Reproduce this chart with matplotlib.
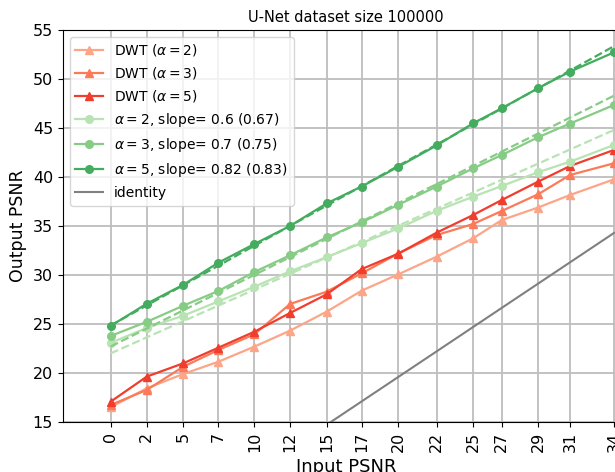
import numpy as np
import matplotlib
matplotlib.use("Agg")
import matplotlib.pyplot as plt
from matplotlib import cm

# ---- data ----
x_input = [0.0, 2.46, 4.95, 7.34, 9.79, 12.22, 14.72, 17.10, 19.60, 22.21, 24.69, 26.64, 29.11, 31.29, 34.29]
x_ticklabels = ["0", "2", "5", "7", "10", "12", "15", "17", "20", "22", "25", "27", "29", "31", "34"]

dwt_a2 = [16.5, 18.44, 19.9, 21.15, 22.69, 24.32, 26.26, 28.4, 30.07, 31.87, 33.74, 35.61, 36.88, 38.16, 39.76]
dwt_a3 = [16.73, 18.27, 20.64, 22.35, 23.95, 27.04, 28.3, 30.17, 32.2, 34.08, 35.2, 36.53, 38.23, 40.2, 41.4]
dwt_a5 = [17.07, 19.63, 20.99, 22.58, 24.21, 26.12, 28.03, 30.6, 32.18, 34.32, 36.12, 37.65, 39.52, 41.12, 42.76]

unet_a2 = [23.08, 24.6, 25.85, 27.3, 28.81, 30.37, 31.82, 33.25, 34.76, 36.55, 37.99, 39.08, 40.48, 41.56, 43.27]
unet_a3 = [23.78, 25.22, 26.87, 28.37, 30.31, 32.01, 33.84, 35.37, 37.17, 39.03, 40.88, 42.24, 44.05, 45.45, 47.35]
unet_a5 = [24.8, 27.07, 29.0, 31.26, 33.16, 35.0, 37.31, 39.03, 41.05, 43.22, 45.48, 47.01, 49.05, 50.75, 52.72]

# dashed reference lines (value at first and last input PSNR)
fit_a2 = [22.0, 44.8]
fit_a3 = [22.7, 48.3]
fit_a5 = [24.85, 53.35]

alphas = [2, 3, 5]
slopes = ["0.6", "0.7", "0.82"]
theory = ["0.67", "0.75", "0.83"]

# ---- figure ----
W, H = 615, 472
fig = plt.figure(figsize=(W / 100, H / 100), dpi=100)
ax = fig.add_axes([62.8 / W, 50 / H, 566.2 / W, 392 / H])

reds = [cm.Reds(v) for v in (0.32, 0.45, 0.62)]
greens = [cm.Greens(v) for v in (0.3, 0.45, 0.62)]

for a, ys, c in zip(alphas, [dwt_a2, dwt_a3, dwt_a5], reds):
    ax.plot(x_input, ys, marker="^", ms=6, lw=1.6, color=c, label=r"DWT ($\alpha=%d$)" % a)

for a, ys, f, s, t, c in zip(alphas, [unet_a2, unet_a3, unet_a5], [fit_a2, fit_a3, fit_a5], slopes, theory, greens):
    ax.plot(x_input, ys, marker="o", ms=5.5, lw=1.6, color=c,
            label=r"$\alpha=%d$, slope= %s (%s)" % (a, s, t))
    ax.plot([x_input[0], x_input[-1]], f, ls="--", lw=1.6, color=c)

ax.plot([x_input[0], x_input[-1]], [x_input[0], x_input[-1]], color="gray", lw=1.5, label="identity")

ax.set_xlim(-3.256, 35.31)
ax.set_ylim(15, 55)
ax.set_xticks(x_input)
ax.set_xticklabels(x_ticklabels, rotation=90, fontsize=11.5)
ax.set_yticks(range(15, 56, 5))
ax.tick_params(axis="y", labelsize=11.5)
ax.grid(True, color="#bdbdbd", lw=1.3)
ax.set_axisbelow(True)
ax.set_xlabel("Input PSNR", fontsize=13)
ax.set_ylabel("Output PSNR", fontsize=12.5)
ax.set_title("U-Net dataset size 100000", fontsize=10.5)
ax.legend(loc="upper left", fontsize=10)

fig.savefig("out.png", dpi=100)
